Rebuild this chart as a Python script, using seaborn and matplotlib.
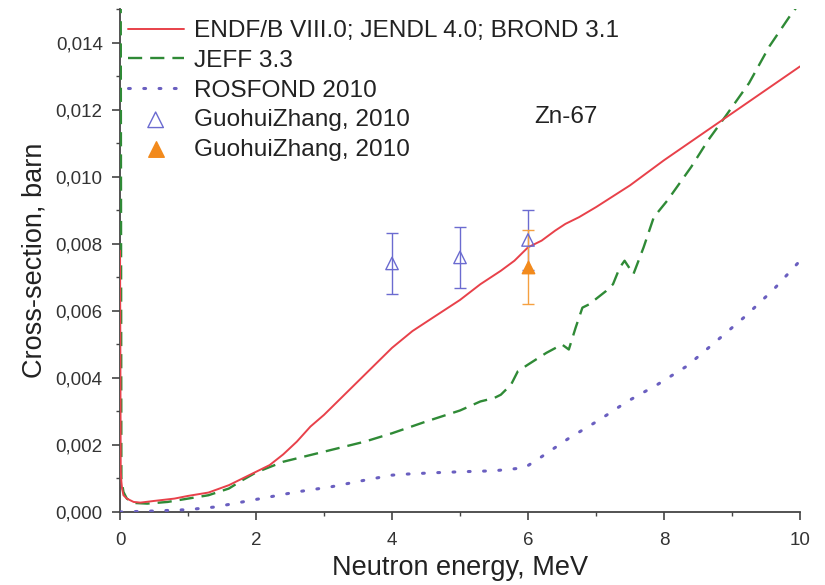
import matplotlib
matplotlib.use("Agg")
import matplotlib.pyplot as plt
import seaborn as sns
from matplotlib.ticker import MultipleLocator, FuncFormatter

# ENDF/B VIII.0; JENDL 4.0; BROND 3.1
endf_e = [0.0, 0.01, 0.02, 0.03, 0.05, 0.1, 0.2, 0.3, 0.5, 0.8, 1.0, 1.3, 1.6, 1.8,
          2.0, 2.2, 2.4, 2.6, 2.8, 3.0, 3.3, 3.6, 4.0, 4.3, 4.6, 5.0, 5.3, 5.6, 5.8,
          6.0, 6.2, 6.4, 6.55, 6.75, 7.0, 7.5, 8.0, 8.5, 9.0, 9.5, 10.0]
endf_xs = [0.0078, 0.0012, 0.0009, 0.0007, 0.0005, 0.0004, 0.0003, 0.00028, 0.00033,
           0.0004, 0.00048, 0.00058, 0.0008, 0.001, 0.0012, 0.0014, 0.00172, 0.0021,
           0.00255, 0.0029, 0.0035, 0.0041, 0.0049, 0.0054, 0.0058, 0.00633, 0.0068,
           0.0072, 0.0075, 0.0079, 0.0081, 0.0084, 0.0086, 0.0088, 0.0091, 0.00975,
           0.0105, 0.0112, 0.0119, 0.0126, 0.0133]

# JEFF 3.3
jeff_e = [0.0, 0.02, 0.05, 0.1, 0.2, 0.4, 0.7, 1.0, 1.3, 1.6, 1.8, 2.0, 2.4, 2.8,
          3.2, 3.6, 4.0, 4.5, 5.0, 5.3, 5.5, 5.6, 5.75, 5.85, 6.0, 6.27, 6.5, 6.6,
          6.7, 6.8, 6.9, 7.15, 7.25, 7.35, 7.42, 7.55, 7.7, 7.85, 8.05, 8.4, 8.65,
          8.9, 9.25, 9.55, 9.85, 10.0]
jeff_xs = [0.03, 0.001, 0.0006, 0.0004, 0.00027, 0.00025, 0.0003, 0.0004, 0.0005,
           0.0007, 0.00095, 0.00118, 0.0015, 0.0017, 0.0019, 0.0021, 0.00235, 0.0027,
           0.00303, 0.0033, 0.0034, 0.0035, 0.0038, 0.0042, 0.0044, 0.00475, 0.005,
           0.00485, 0.0055, 0.0061, 0.0062, 0.0066, 0.0068, 0.0073, 0.0075, 0.0071,
           0.0079, 0.0088, 0.0093, 0.0103, 0.0111, 0.0118, 0.0128, 0.0139, 0.0148,
           0.0152]

# ROSFOND 2010
rosf_e = [0.0, 0.5, 1.0, 1.4, 1.8, 2.2, 2.6, 3.1, 3.6, 4.0, 4.2, 4.6, 5.0, 5.5,
          5.95, 6.2, 6.6, 7.05, 7.46, 7.9, 8.34, 8.77, 9.2, 9.62, 10.0]
rosf_xs = [0.0, 0.00003, 0.00007, 0.00015, 0.0003, 0.00045, 0.0006, 0.00075, 0.00095,
           0.0011, 0.00113, 0.00117, 0.0012, 0.00123, 0.00132, 0.00165, 0.0022,
           0.00275, 0.0033, 0.0038, 0.00436, 0.0051, 0.00585, 0.00666, 0.0075]

# GuohuiZhang, 2010 measurements
exp1_e = [4.0, 5.0, 6.0]
exp1_xs = [0.00742, 0.0076, 0.00812]
exp1_err = [0.0009, 0.0009, 0.0009]

exp2_e = [6.0]
exp2_xs = [0.00731]
exp2_err = [0.0011]

sns.set_theme(style="ticks")
plt.rcParams['font.family'] = ['Liberation Sans', 'DejaVu Sans']

fig = plt.figure(figsize=(8.25, 5.85), dpi=100)
ax = fig.add_axes([0.1455, 0.1248, 0.8242, 0.859])

sns.lineplot(x=jeff_e, y=jeff_xs, ax=ax, color='#2f8a36', linewidth=1.7,
             linestyle=(0, (6.0, 3.4)), sort=False, estimator=None,
             label='JEFF 3.3', zorder=3)
sns.lineplot(x=endf_e, y=endf_xs, ax=ax, color='#e8414a', linewidth=1.4,
             sort=False, estimator=None,
             label='ENDF/B VIII.0; JENDL 4.0; BROND 3.1', zorder=4)
sns.lineplot(x=rosf_e, y=rosf_xs, ax=ax, color='#6a5fc0', linewidth=2.2,
             linestyle=(0, (0.6, 4.4)), dash_capstyle='round', sort=False,
             estimator=None, label='ROSFOND 2010', zorder=3)

# error bars first, markers on top (legend shows markers only)
ax.errorbar(exp1_e, exp1_xs, yerr=exp1_err, fmt='none', ecolor='#6b6bd0',
            elinewidth=1.0, capsize=4.5, capthick=1.0, zorder=5)
ax.errorbar(exp2_e, exp2_xs, yerr=exp2_err, fmt='none', ecolor='#f5a040',
            elinewidth=1.0, capsize=4.5, capthick=1.0, zorder=5)
sns.scatterplot(x=exp1_e, y=exp1_xs, ax=ax, marker='^', s=80, facecolor='none',
                edgecolor='#6b6bd0', linewidth=1.0, label='GuohuiZhang, 2010',
                zorder=6)
sns.scatterplot(x=exp2_e, y=exp2_xs, ax=ax, marker='^', s=80, color='#f28a1c',
                edgecolor='#f28a1c', linewidth=1.0, label='GuohuiZhang, 2010 ',
                zorder=6)

ax.text(6.56, 0.0118, 'Zn-67', fontsize=17.5, color='#222222',
        ha='center', va='center')

ax.set_xlim(0, 10)
ax.set_ylim(0, 0.015)
ax.xaxis.set_major_locator(MultipleLocator(2))
ax.xaxis.set_minor_locator(MultipleLocator(1))
ax.yaxis.set_major_locator(MultipleLocator(0.002))
ax.yaxis.set_minor_locator(MultipleLocator(0.001))
ax.yaxis.set_major_formatter(FuncFormatter(lambda v, p: f"{v:.3f}".replace('.', ',')))

sns.despine(ax=ax)
for s in ['left', 'bottom']:
    ax.spines[s].set_color('#444444')
    ax.spines[s].set_linewidth(1.3)
ax.tick_params(which='major', direction='out', length=5.5, width=1.2,
               color='#444444', labelsize=13.5, labelcolor='#333333')
ax.tick_params(axis='x', which='major', pad=9)
ax.tick_params(axis='y', which='major', pad=7)
ax.tick_params(which='minor', direction='out', length=3, width=1.0, color='#444444')

ax.set_xlabel('Neutron energy, MeV', fontsize=19.5, color='#222222', labelpad=4)
ax.set_ylabel('Cross-section, barn', fontsize=19.5, color='#222222', labelpad=6)

handles, labels = ax.get_legend_handles_labels()
order = [labels.index('ENDF/B VIII.0; JENDL 4.0; BROND 3.1'),
         labels.index('JEFF 3.3'), labels.index('ROSFOND 2010')]
order += [i for i, l in enumerate(labels) if l.startswith('Guohui')]
leg = ax.legend([handles[i] for i in order], [labels[i].strip() for i in order],
                loc='upper left', bbox_to_anchor=(0.011, 0.979), frameon=False,
                fontsize=17.6, handlelength=2.3, handletextpad=0.42,
                labelspacing=0.31, borderpad=0, borderaxespad=0, markerscale=1.25)
for t in leg.get_texts():
    t.set_color('#222222')

fig.savefig('out.png', dpi=100)
